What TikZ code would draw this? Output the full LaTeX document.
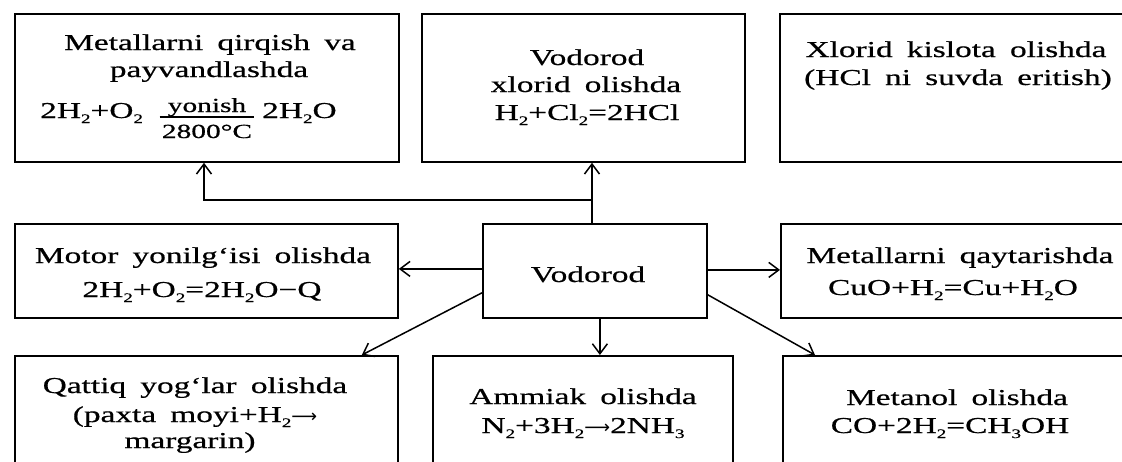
\documentclass[tikz,border=0pt]{standalone}
\usepackage{fontspec}
\setmainfont[FakeStretch=1.47,WordSpace=1.7,FakeBold=0.6]{Liberation Serif}
\newfontfamily\arrfont{DejaVu Sans}
\usetikzlibrary{arrows.meta}
\newcommand\chs[1]{\raisebox{-5pt}{\fontsize{13}{13}\selectfont #1}}
\newcommand\rarr{{\arrfont\fontsize{18}{18}\selectfont ⟶}}
\tikzset{
  box/.style={draw, line width=1.8pt, rectangle, inner sep=0pt, anchor=north west},
  txt/.style={anchor=base, inner sep=0pt, font=\fontsize{22.7}{27}\selectfont},
  smalltxt/.style={anchor=base, inner sep=0pt, font=\fontsize{20}{22}\selectfont},
  arr/.style={line width=1.5pt, -{Straight Barb[length=10pt,width=15pt]}},
  fracrule/.style={line width=1.1pt},
}
\begin{document}
\begin{tikzpicture}[x=1pt,y=-1pt]
\useasboundingbox (0,0) rectangle (1122,461);
\fill[white] (0,0) rectangle (1122,461);
\clip (0,0) rectangle (1122,461);
% boxes
\node[box, minimum width=384pt, minimum height=148pt] (A) at (14,13) {};
\node[box, minimum width=323pt, minimum height=148pt] (B) at (421,13) {};
\node[box, minimum width=351pt, minimum height=148pt] (C) at (779,13) {};
\node[box, minimum width=383pt, minimum height=94pt] (D) at (14,223) {};
\node[box, minimum width=224pt, minimum height=94pt] (V) at (482,223) {};
\node[box, minimum width=350pt, minimum height=94pt] (F) at (780,223) {};
\node[box, minimum width=383pt, minimum height=120pt] (G) at (14,355) {};
\node[box, minimum width=300pt, minimum height=120pt] (H) at (432,355) {};
\node[box, minimum width=348pt, minimum height=120pt] (I) at (782,355) {};
% texts
\node[txt] (A1) at (210,50) {Metallarni qirqish va};
\node[txt] (A2) at (209,77) {payvandlashda};
\node[txt, anchor=base west] (A3) at (40,118) {2H\chs{2}+O\chs{2}};
\node[smalltxt] (A4) at (207,112) {yonish};
\node[smalltxt] (A5) at (207,138) {2800°C};
\node[txt, anchor=base west] (A6) at (262,118) {2H\chs{2}O};
\draw[fracrule] ([yshift=-5pt,xshift=-2pt]A4.base -| A5.west) -- ([yshift=-5pt,xshift=2pt]A4.base -| A5.east);
\node[txt] (B1) at (587,65) {Vodorod};
\node[txt] (B2) at (586,92) {xlorid olishda};
\node[txt] (B3) at (587,120) {H\chs{2}+Cl\chs{2}=2HCl};
\node[txt] (C1) at (956,57) {Xlorid kislota olishda};
\node[txt] (C2) at (958,85) {(HCl ni suvda eritish)};
\node[txt] (D1) at (203,263) {Motor yonilg‘isi olishda};
\node[txt] (D2) at (202,297) {2H\chs{2}+O\chs{2}=2H\chs{2}O−Q};
\node[txt] (V1) at (588,282) {Vodorod};
\node[txt] (F1) at (960,263) {Metallarni qaytarishda};
\node[txt] (F2) at (953,295) {CuO+H\chs{2}=Cu+H\chs{2}O};
\node[txt] (G1) at (195,393) {Qattiq yog‘lar olishda};
\node[txt] (G2) at (195,422) {(paxta moyi+H\chs{2}\rarr};
\node[txt] (G3) at (190,448) {margarin)};
\node[txt] (H1) at (583,404) {Ammiak olishda};
\node[txt] (H2) at (583,433) {N\chs{2}+3H\chs{2}\rarr2NH\chs{3}};
\node[txt] (I1) at (957,405) {Metanol olishda};
\node[txt] (I2) at (950,433) {CO+2H\chs{2}=CH\chs{3}OH};
% connectors
\coordinate (j1) at (592,200);
\coordinate (j2) at (204,200);
\draw[arr] (j1 |- V.north) -- (j1 |- B.south);
\draw[arr] (j1) -- (j2) -- (j2 |- A.south);
\draw[arr] ([yshift=2pt]V.west) -- ([yshift=2pt]V.west -| D.east);
\draw[arr] ([yshift=1pt]V.east) -- ([yshift=1pt]V.east -| F.west);
\draw[arr] ([xshift=5pt]V.south) -- ([xshift=5pt]V.south |- H.north);
\draw[arr] ([yshift=26pt]V.south west) -- ([xshift=-37pt]G.north east);
\draw[arr] ([yshift=24pt]V.south east) -- ([xshift=33pt]I.north west);
\end{tikzpicture}
\end{document}
